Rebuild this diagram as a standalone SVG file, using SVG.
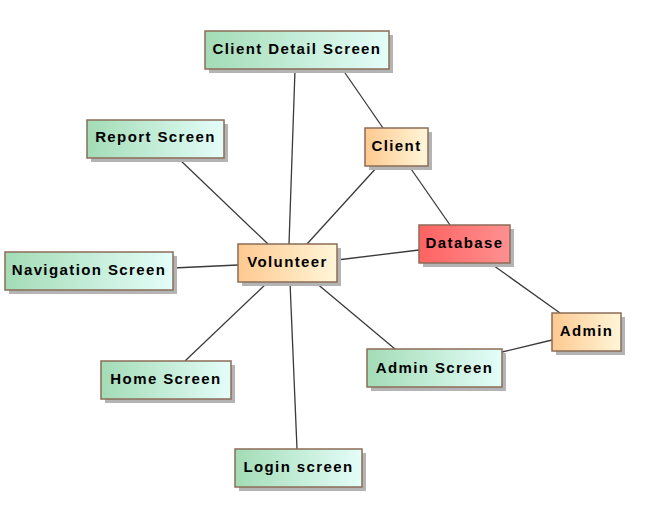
<svg xmlns="http://www.w3.org/2000/svg" width="659" height="509" viewBox="0 0 659 509">
<defs>
<linearGradient id="g" x1="0" y1="0" x2="1" y2="0"><stop offset="0" stop-color="#a3dcb6"/><stop offset="1" stop-color="#e4fdf9"/></linearGradient>
<linearGradient id="o" x1="0" y1="0" x2="1" y2="0"><stop offset="0" stop-color="#fec990"/><stop offset="1" stop-color="#fff6d8"/></linearGradient>
<linearGradient id="r" x1="0" y1="0" x2="1" y2="0"><stop offset="0" stop-color="#ff6262"/><stop offset="1" stop-color="#ff9090"/></linearGradient>
</defs>
<style>
.s{fill:#b4b4b4}
.b{stroke:#8c6c58;stroke-width:1.5}
.gr{fill:url(#g)}.or{fill:url(#o)}.rd{fill:url(#r)}
text{font-family:"Liberation Sans",Arial,sans-serif;font-weight:bold;font-size:15px;letter-spacing:1.4px;fill:#000;text-anchor:middle;dominant-baseline:central}
.c line{stroke:#3a3a3a;stroke-width:1.3}
</style>
<g class="c" id="connectors">
<line x1="295" y1="70" x2="289" y2="244"/>
<line x1="343" y1="70" x2="383" y2="128"/>
<line x1="178" y1="158" x2="268" y2="244"/>
<line x1="378" y1="166" x2="307" y2="244"/>
<line x1="409" y1="166" x2="450" y2="225"/>
<line x1="173" y1="268" x2="238" y2="265"/>
<line x1="337" y1="260" x2="419" y2="250"/>
<line x1="490" y1="263" x2="560" y2="313"/>
<line x1="502" y1="352" x2="552" y2="340"/>
<line x1="268" y1="282" x2="185" y2="361"/>
<line x1="290" y1="282" x2="297" y2="449"/>
<line x1="315" y1="282" x2="395" y2="349"/>
</g>
<g id="clientDetail"><rect class="s" x="209" y="35" width="184" height="38"/><rect class="gr b" x="205" y="31" width="184" height="38"/><text x="297" y="48">Client Detail Screen</text></g>
<g id="report"><rect class="s" x="91" y="124" width="137" height="38"/><rect class="gr b" x="87" y="120" width="137" height="38"/><text x="155.5" y="136">Report Screen</text></g>
<g id="client"><rect class="s" x="369" y="132" width="63" height="38"/><rect class="or b" x="365" y="128" width="63" height="38"/><text x="396.5" y="145">Client</text></g>
<g id="database"><rect class="s" x="423" y="229" width="91" height="38"/><rect class="rd b" x="419" y="225" width="91" height="38"/><text x="464.5" y="242">Database</text></g>
<g id="volunteer"><rect class="s" x="242" y="248" width="99" height="38"/><rect class="or b" x="238" y="244" width="99" height="38"/><text x="287.5" y="261">Volunteer</text></g>
<g id="navigation"><rect class="s" x="9" y="256" width="168" height="38"/><rect class="gr b" x="5" y="252" width="168" height="38"/><text x="89" y="269">Navigation Screen</text></g>
<g id="admin"><rect class="s" x="556" y="317" width="69" height="38"/><rect class="or b" x="552" y="313" width="69" height="38"/><text x="586.5" y="330">Admin</text></g>
<g id="adminScreen"><rect class="s" x="371" y="353" width="135" height="38"/><rect class="gr b" x="367" y="349" width="135" height="38"/><text x="434.5" y="367">Admin Screen</text></g>
<g id="home"><rect class="s" x="105" y="365" width="130" height="38"/><rect class="gr b" x="101" y="361" width="130" height="38"/><text x="166" y="378">Home Screen</text></g>
<g id="login"><rect class="s" x="239" y="453" width="127" height="38"/><rect class="gr b" x="235" y="449" width="127" height="38"/><text x="298.5" y="466">Login screen</text></g>
</svg>
